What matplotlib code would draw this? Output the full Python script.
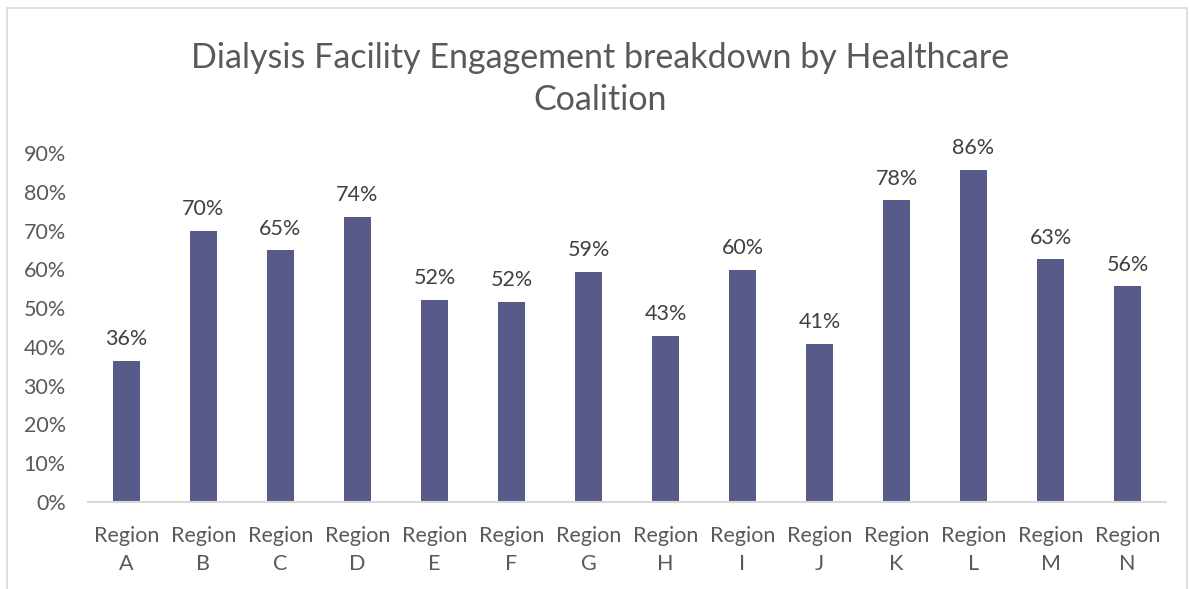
import matplotlib.pyplot as plt
from matplotlib.patches import Rectangle
from matplotlib.ticker import PercentFormatter

regions = ['A', 'B', 'C', 'D', 'E', 'F', 'G', 'H', 'I', 'J', 'K', 'L', 'M', 'N']
engagement = [0.363, 0.700, 0.649, 0.736, 0.522, 0.516, 0.593,
              0.428, 0.599, 0.408, 0.778, 0.857, 0.626, 0.556]
y_ticks = [0, 0.1, 0.2, 0.3, 0.4, 0.5, 0.6, 0.7, 0.8, 0.9]

plt.rcParams['font.family'] = ['Lato', 'DejaVu Sans']
grey = '#595959'

fig = plt.figure(figsize=(11.89, 5.89), dpi=100)
ax = fig.add_axes([0.074, 0.1477, 0.9067, 0.5923])

x = range(len(regions))
bars = ax.bar(x, engagement, width=0.35, color='#585A8A')
for b, v in zip(bars, engagement):
    ax.annotate(f'{v:.0%}', (b.get_x() + b.get_width() / 2, v),
                xytext=(0, 8.5), textcoords='offset points',
                ha='center', va='bottom', fontsize=15.5, color='#404040')

ax.set_xlim(-0.5, len(regions) - 0.5)
ax.set_ylim(0, 0.9)
ax.set_yticks(y_ticks)
ax.yaxis.set_major_formatter(PercentFormatter(1, decimals=0))
ax.set_xticks(list(x))
ax.set_xticklabels([f'Region\n{r}' for r in regions], linespacing=1.55)
ax.tick_params(axis='both', length=0, labelsize=15.5, labelcolor=grey)
ax.tick_params(axis='y', pad=16)
ax.tick_params(axis='x', pad=17)

for s in ['top', 'right', 'left']:
    ax.spines[s].set_visible(False)
ax.spines['bottom'].set_color('#D9D9D9')
ax.spines['bottom'].set_linewidth(1.5)

fig.text(0.505, 0.866, 'Dialysis Facility Engagement breakdown by Healthcare\nCoalition',
         ha='center', va='center', fontsize=24.5, color=grey, linespacing=1.38)

fig.patches.append(Rectangle((0.006, -0.01), 0.992, 0.996, transform=fig.transFigure,
                             fill=False, edgecolor='#D9D9D9', linewidth=1.2))

fig.savefig('out.png', dpi=100)
